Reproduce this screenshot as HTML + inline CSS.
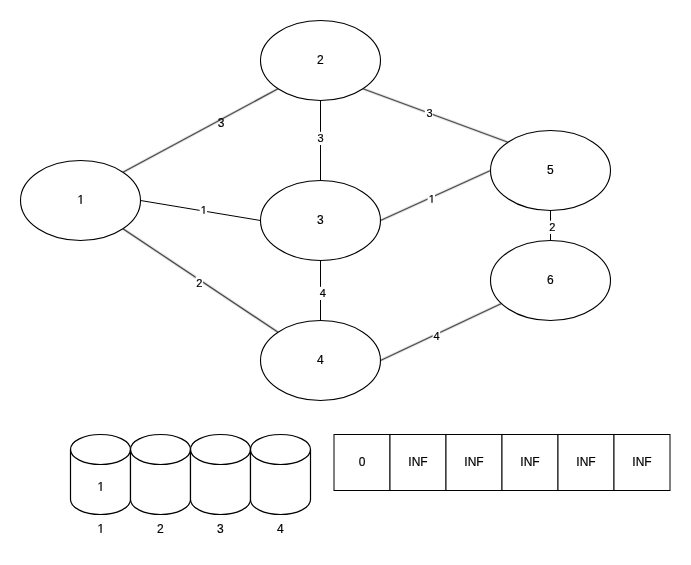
<!DOCTYPE html><html><head><meta charset="utf-8"><style>html,body{margin:0;padding:0;background:#fff;}svg{display:block;will-change:transform;}text{font-family:"Liberation Sans",sans-serif;stroke:#000;stroke-width:0.2px;}</style></head><body>
<svg width="691" height="565" viewBox="0 0 691 565">
<rect x="0" y="0" width="691" height="565" fill="#ffffff"/>
<defs><filter id="bl" filterUnits="userSpaceOnUse" x="0" y="0" width="691" height="565" color-interpolation-filters="sRGB"><feConvolveMatrix order="3" kernelMatrix="0.05 0.1 0.05 0.1 1 0.1 0.05 0.1 0.05" divisor="1.5999999999999999" preserveAlpha="false"/></filter></defs>
<g transform="translate(0.5,0.5)">
<path d="M 20 200 A 60 40 0 0 1 80 160 A 60 40 0 0 1 140 200 A 60 40 0 0 1 80 240 A 60 40 0 0 1 20 200 Z" fill="#fff" stroke="#000" stroke-width="1.1"/>
<path d="M 260 60 A 60 40 0 0 1 320 20 A 60 40 0 0 1 380 60 A 60 40 0 0 1 320 100 A 60 40 0 0 1 260 60 Z" fill="#fff" stroke="#000" stroke-width="1.1"/>
<path d="M 260 220 A 60 40 0 0 1 320 180 A 60 40 0 0 1 380 220 A 60 40 0 0 1 320 260 A 60 40 0 0 1 260 220 Z" fill="#fff" stroke="#000" stroke-width="1.1"/>
<path d="M 260 360 A 60 40 0 0 1 320 320 A 60 40 0 0 1 380 360 A 60 40 0 0 1 320 400 A 60 40 0 0 1 260 360 Z" fill="#fff" stroke="#000" stroke-width="1.1"/>
<path d="M 490 170 A 60 40 0 0 1 550 130 A 60 40 0 0 1 610 170 A 60 40 0 0 1 550 210 A 60 40 0 0 1 490 170 Z" fill="#fff" stroke="#000" stroke-width="1.1"/>
<path d="M 490 280 A 60 40 0 0 1 550 240 A 60 40 0 0 1 610 280 A 60 40 0 0 1 550 320 A 60 40 0 0 1 490 280 Z" fill="#fff" stroke="#000" stroke-width="1.1"/>
<path d="M 122.43 171.72 L 277.57 88.28" fill="none" stroke="#111" stroke-width="1.2" filter="url(#bl)"/>
<path d="M 140.00 200.00 L 260.00 220.00" fill="none" stroke="#000" stroke-width="1"/>
<path d="M 122.43 228.28 L 277.57 331.72" fill="none" stroke="#111" stroke-width="1.2" filter="url(#bl)"/>
<path d="M 320.00 100.00 L 320.00 180.00" fill="none" stroke="#000" stroke-width="1"/>
<path d="M 362.43 88.28 L 507.57 141.72" fill="none" stroke="#111" stroke-width="1.2" filter="url(#bl)"/>
<path d="M 380.00 220.00 L 490.00 170.00" fill="none" stroke="#111" stroke-width="1.2" filter="url(#bl)"/>
<path d="M 320.00 260.00 L 320.00 320.00" fill="none" stroke="#000" stroke-width="1"/>
<path d="M 380.00 360.00 L 500.98 303.07" fill="none" stroke="#111" stroke-width="1.2" filter="url(#bl)"/>
<path d="M 550.00 210.00 L 550.00 240.00" fill="none" stroke="#000" stroke-width="1"/>
<path d="M 70 449 A 30.0 15 0 0 1 100.0 434 A 30.0 15 0 0 1 130 449 L 130 499 A 30.0 15 0 0 1 100.0 514 A 30.0 15 0 0 1 70 499 Z" fill="#fff" stroke="#000" stroke-width="1.2" stroke-miterlimit="10"/>
<path d="M 70 449 A 30.0 15 0 0 0 130 449" fill="none" stroke="#000" stroke-width="1.2" stroke-miterlimit="10"/>
<path d="M 130 449 A 30.0 15 0 0 1 160.0 434 A 30.0 15 0 0 1 190 449 L 190 499 A 30.0 15 0 0 1 160.0 514 A 30.0 15 0 0 1 130 499 Z" fill="#fff" stroke="#000" stroke-width="1.2" stroke-miterlimit="10"/>
<path d="M 130 449 A 30.0 15 0 0 0 190 449" fill="none" stroke="#000" stroke-width="1.2" stroke-miterlimit="10"/>
<path d="M 190 449 A 30.0 15 0 0 1 220.0 434 A 30.0 15 0 0 1 250 449 L 250 499 A 30.0 15 0 0 1 220.0 514 A 30.0 15 0 0 1 190 499 Z" fill="#fff" stroke="#000" stroke-width="1.2" stroke-miterlimit="10"/>
<path d="M 190 449 A 30.0 15 0 0 0 250 449" fill="none" stroke="#000" stroke-width="1.2" stroke-miterlimit="10"/>
<path d="M 250 449 A 30.0 15 0 0 1 280.0 434 A 30.0 15 0 0 1 310 449 L 310 499 A 30.0 15 0 0 1 280.0 514 A 30.0 15 0 0 1 250 499 Z" fill="#fff" stroke="#000" stroke-width="1.2" stroke-miterlimit="10"/>
<path d="M 250 449 A 30.0 15 0 0 0 310 449" fill="none" stroke="#000" stroke-width="1.2" stroke-miterlimit="10"/>
<rect x="333.5" y="434" width="56" height="56" fill="#fff" stroke="#000"/>
<rect x="389.5" y="434" width="56" height="56" fill="#fff" stroke="#000"/>
<rect x="445.5" y="434" width="56" height="56" fill="#fff" stroke="#000"/>
<rect x="501.5" y="434" width="56" height="56" fill="#fff" stroke="#000"/>
<rect x="557.5" y="434" width="56" height="56" fill="#fff" stroke="#000"/>
<rect x="613.5" y="434" width="56" height="56" fill="#fff" stroke="#000"/>
</g>
<text x="80.80" y="203.8" font-size="12" text-anchor="middle" fill="#000" clip-path="url(#c1_1)">1</text>
<text x="320.3" y="63.8" font-size="12" text-anchor="middle" fill="#000">2</text>
<text x="320.3" y="223.8" font-size="12" text-anchor="middle" fill="#000">3</text>
<text x="320.3" y="363.8" font-size="12" text-anchor="middle" fill="#000">4</text>
<text x="550.3" y="173.8" font-size="12" text-anchor="middle" fill="#000">5</text>
<text x="550.3" y="283.8" font-size="12" text-anchor="middle" fill="#000">6</text>
<text x="362.0" y="466.3" font-size="12" text-anchor="middle" fill="#000">0</text>
<text x="418.0" y="466.3" font-size="12" text-anchor="middle" fill="#000">INF</text>
<text x="474.0" y="466.3" font-size="12" text-anchor="middle" fill="#000">INF</text>
<text x="530.0" y="466.3" font-size="12" text-anchor="middle" fill="#000">INF</text>
<text x="586.0" y="466.3" font-size="12" text-anchor="middle" fill="#000">INF</text>
<text x="642.0" y="466.3" font-size="12" text-anchor="middle" fill="#000">INF</text>
<text x="100.80" y="490.8" font-size="12" text-anchor="middle" fill="#000" clip-path="url(#c1_2)">1</text>
<text x="100.80" y="533" font-size="12" text-anchor="middle" fill="#000" clip-path="url(#c1_3)">1</text>
<text x="160.3" y="533" font-size="12" text-anchor="middle" fill="#000">2</text>
<text x="220.3" y="533" font-size="12" text-anchor="middle" fill="#000">3</text>
<text x="280.3" y="533" font-size="12" text-anchor="middle" fill="#000">4</text>
<text x="221.0" y="126.9" font-size="12" text-anchor="middle" fill="#000">3</text>
<rect x="199.6" y="203.5" width="7.5" height="13.2" fill="#fff"/>
<text x="203.80" y="213.7" font-size="11" text-anchor="middle" fill="#000" clip-path="url(#c1_4)">1</text>
<rect x="195.7" y="276.3" width="7.4" height="13.2" fill="#fff"/>
<text x="199.4" y="286.8" font-size="11" text-anchor="middle" fill="#000">2</text>
<rect x="316.9" y="131.8" width="7.5" height="13.2" fill="#fff"/>
<text x="320.6" y="142.0" font-size="11" text-anchor="middle" fill="#000">3</text>
<rect x="424.8" y="106.4" width="8.1" height="13.2" fill="#fff"/>
<text x="429.5" y="116.8" font-size="11" text-anchor="middle" fill="#000">3</text>
<rect x="427.6" y="192.6" width="7.4" height="13.2" fill="#fff"/>
<text x="431.80" y="202.8" font-size="11" text-anchor="middle" fill="#000" clip-path="url(#c1_5)">1</text>
<rect x="319.0" y="286.8" width="7.4" height="13.2" fill="#fff"/>
<text x="322.7" y="296.8" font-size="11" text-anchor="middle" fill="#000">4</text>
<rect x="432.7" y="329.4" width="7.5" height="13.2" fill="#fff"/>
<text x="436.6" y="339.9" font-size="11" text-anchor="middle" fill="#000">4</text>
<rect x="548.6" y="220.7" width="7.5" height="13.2" fill="#fff"/>
<text x="552.4" y="230.9" font-size="11" text-anchor="middle" fill="#000">2</text>
<clipPath id="c1_1"><rect x="74.46" y="189.60" width="12.67" height="13.40"/><rect x="80.481" y="202.50" width="1.061" height="2.5"/></clipPath>
<clipPath id="c1_2"><rect x="94.46" y="476.60" width="12.67" height="13.40"/><rect x="100.481" y="489.50" width="1.061" height="2.5"/></clipPath>
<clipPath id="c1_3"><rect x="94.46" y="518.60" width="12.67" height="13.40"/><rect x="100.481" y="531.50" width="1.061" height="2.5"/></clipPath>
<clipPath id="c1_4"><rect x="197.74" y="200.80" width="12.12" height="12.20"/><rect x="203.507" y="212.50" width="0.972" height="2.5"/></clipPath>
<clipPath id="c1_5"><rect x="425.74" y="189.80" width="12.12" height="12.20"/><rect x="431.507" y="201.50" width="0.972" height="2.5"/></clipPath>
</svg></body></html>
